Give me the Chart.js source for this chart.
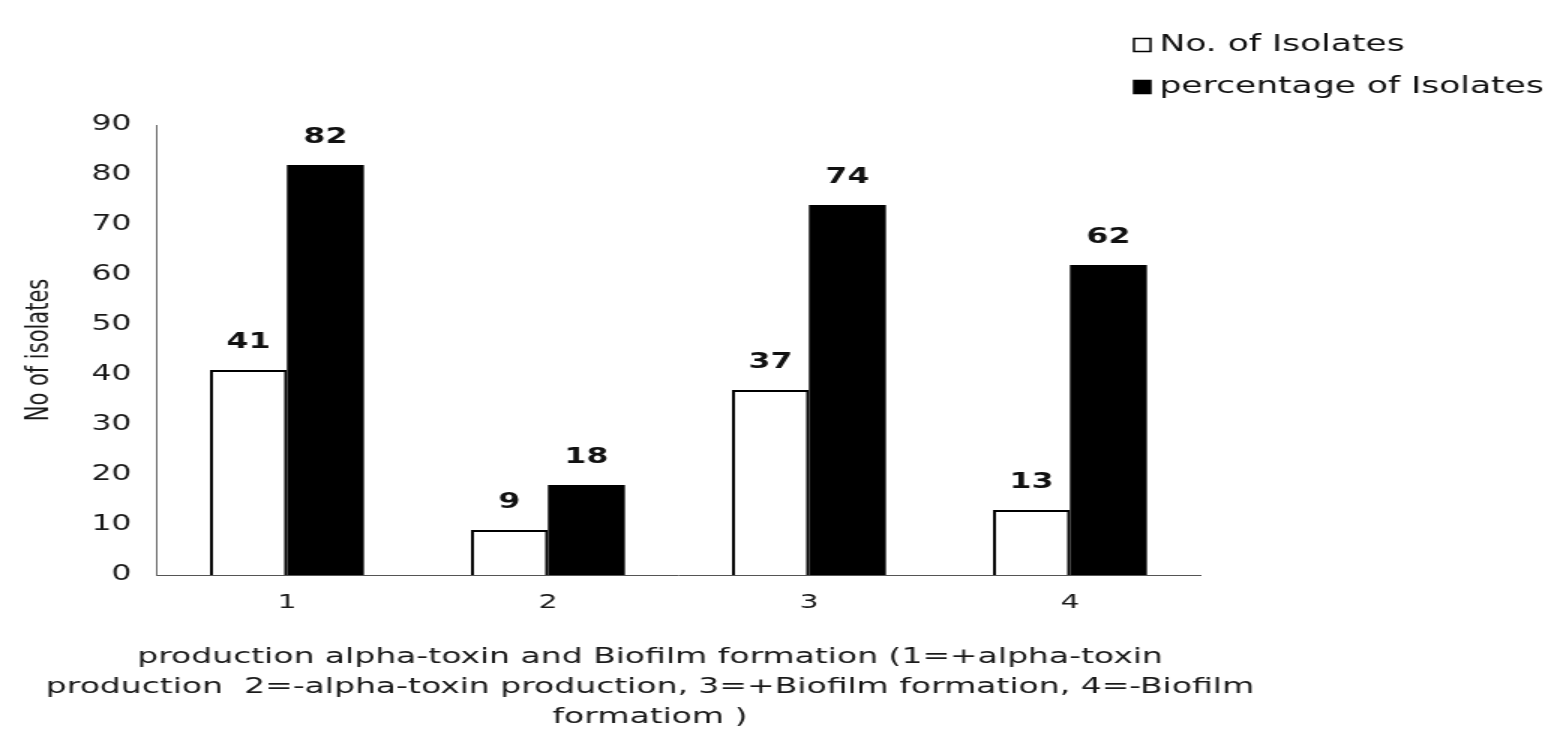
<!DOCTYPE html>
<html><head><meta charset="utf-8">
<script src="https://cdn.jsdelivr.net/npm/chart.js@4.4.1/dist/chart.umd.min.js"></script>
<style>html,body{margin:0;padding:0;background:#fff;overflow:hidden}</style>
</head><body>
<canvas id="c" width="1036" height="732" style="width:1554px;height:732px;display:block"></canvas>
<script>
const categories = ['1', '2', '3', '4'];
const seriesNames = ['No. of Isolates', 'percentage of Isolates'];
const noOfIsolates = [41, 9, 37, 13];
const percentageOfIsolates = [82, 18, 74, 62];
const yMin = 0, yMax = 90, yStep = 10;
const yAxisTitle = 'No of isolates';
const xAxisTitle = [
  'production alpha-toxin and Biofilm formation (1=+alpha-toxin',
  'production  2=-alpha-toxin production, 3=+Biofilm formation, 4=-Biofilm',
  'formatiom )'
];

const FONT = "'DejaVu Sans', 'Liberation Sans', sans-serif";
Chart.defaults.font.family = FONT;
Chart.defaults.color = '#1a1a1a';

const valueLabels = {
  id: 'valueLabels',
  afterDatasetsDraw(chart) {
    const ctx = chart.ctx;
    ctx.save();
    ctx.font = 'bold 21px ' + FONT;
    ctx.fillStyle = '#111';
    ctx.textAlign = 'center';
    ctx.textBaseline = 'middle';
    chart.data.datasets.forEach((ds, i) => {
      chart.getDatasetMeta(i).data.forEach((bar, j) => {
        ctx.fillText(String(ds.data[j]), bar.x, bar.y - 27);
      });
    });
    ctx.restore();
  }
};

const sideLegend = {
  id: 'sideLegend',
  afterDraw(chart) {
    const ctx = chart.ctx;
    const x0 = 756, rows = [45, 87];
    ctx.save();
    ctx.font = '23px ' + FONT;
    ctx.textAlign = 'left';
    ctx.textBaseline = 'middle';
    chart.data.datasets.forEach((ds, i) => {
      const y = rows[i];
      ctx.fillStyle = ds.backgroundColor;
      ctx.fillRect(x0, y - 6.5, 11, 13);
      ctx.lineWidth = 1.5;
      ctx.strokeStyle = '#000';
      ctx.strokeRect(x0, y - 6.5, 11, 13);
      ctx.fillStyle = '#111';
      ctx.fillText(ds.label, x0 + 17, y);
    });
    ctx.restore();
  }
};

new Chart(document.getElementById('c'), {
  type: 'bar',
  data: {
    labels: categories,
    datasets: [
      { label: seriesNames[0], data: noOfIsolates, backgroundColor: '#ffffff', borderColor: '#000000', borderWidth: 2 },
      { label: seriesNames[1], data: percentageOfIsolates, backgroundColor: '#000000', borderColor: '#000000', borderWidth: 0 }
    ]
  },
  options: {
    responsive: false,
    animation: false,
    devicePixelRatio: 1,
    layout: { padding: { left: 0, right: 169.3, top: 125, bottom: 0 } },
    datasets: { bar: { categoryPercentage: 0.59, barPercentage: 1.0 } },
    plugins: {
      legend: { display: false },
      tooltip: { enabled: false },
      title: {
        display: true,
        position: 'bottom',
        text: xAxisTitle,
        color: '#1a1a1a',
        font: { size: 22, weight: 'normal', lineHeight: 1.3636 },
        padding: { top: 0, bottom: 0 }
      }
    },
    scales: {
      x: {
        grid: { display: false, drawTicks: false },
        border: { display: true, color: '#555', width: 1 },
        ticks: { font: { size: 20 }, padding: 16, color: '#1a1a1a' },
        afterFit(s) { s.height = 67; }
      },
      y: {
        min: yMin, max: yMax,
        grid: { display: false, drawTicks: false },
        border: { display: true, color: '#666', width: 1 },
        ticks: { stepSize: yStep, font: { size: 21 }, padding: 16.7, color: '#1a1a1a' },
        title: { display: true, text: yAxisTitle, font: { size: 21 }, padding: { top: 14, bottom: 0 }, color: '#1a1a1a' },
        afterFit(s) { s.width = 104.3; }
      },
      yPad: {
        type: 'linear',
        position: 'right',
        display: true,
        grid: { display: false, drawTicks: false },
        border: { display: false },
        ticks: { display: false },
        afterFit(s) { s.width = 66.4; }
      }
    }
  },
  plugins: [valueLabels, sideLegend]
});
</script>
</body></html>
